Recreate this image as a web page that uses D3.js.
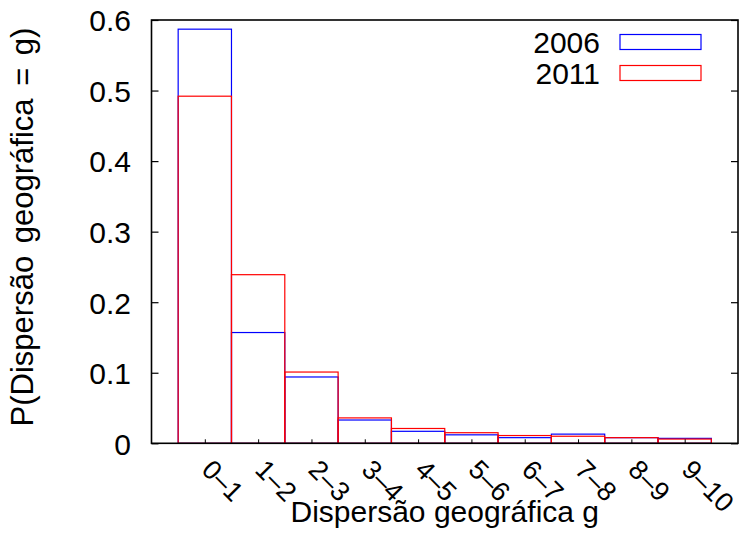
<!DOCTYPE html>
<html>
<head>
<meta charset="utf-8">
<script src="https://cdn.jsdelivr.net/npm/d3@7"></script>
<style>
  html, body { margin: 0; padding: 0; background: #fff; }
  svg { display: block; font-family: "Liberation Sans", Arial, sans-serif; }
</style>
</head>
<body>
<svg id="chart" width="740" height="536"></svg>
<script>
// ---- data ----
const categories = ["0–1", "1–2", "2–3", "3–4", "4–5", "5–6", "6–7", "7–8", "8–9", "9–10"];
const series2006 = [0.587, 0.157, 0.094, 0.033, 0.017, 0.012, 0.008, 0.013, 0.008, 0.007];
const series2011 = [0.492, 0.239, 0.101, 0.036, 0.021, 0.015, 0.011, 0.010, 0.008, 0.006];
const seriesNames = ["2006", "2011"];
const seriesColors = ["#0000ff", "#ff0000"];
const yTicks = [0, 0.1, 0.2, 0.3, 0.4, 0.5, 0.6];
const yTickLabels = ["0", "0.1", "0.2", "0.3", "0.4", "0.5", "0.6"];
const xLabel = "Dispersão geográfica g";
const yLabel = "P(Dispersão geográfica = g)";

// ---- layout ----
const svg = d3.select("#chart");
const L = 151.5, R = 738, T = 20, B = 443.3;
const FS = 30;

const x = d3.scaleLinear().domain([-1, 10]).range([L, R]);
const y = d3.scaleLinear().domain([0, 0.6]).range([B, T]);

// bars
const allSeries = [series2006, series2011];
allSeries.forEach((vals, si) => {
  svg.append("g").selectAll("rect")
    .data(vals)
    .join("rect")
    .attr("x", (d, i) => x(i - 0.5))
    .attr("width", (d, i) => x(i + 0.5) - x(i - 0.5))
    .attr("y", d => y(d))
    .attr("height", d => y(0) - y(d))
    .attr("fill", "none")
    .attr("stroke", seriesColors[si])
    .attr("stroke-width", 1.2);
});

// y axis left
const yAxis = d3.axisLeft(y)
  .tickValues(yTicks)
  .tickFormat((d, i) => yTickLabels[i])
  .tickSizeInner(-7)
  .tickSizeOuter(0)
  .tickPadding(20.5);
const gy = svg.append("g").attr("transform", `translate(${L},0)`).call(yAxis);
gy.select(".domain").remove();
gy.selectAll("line").attr("stroke", "#000").attr("stroke-width", 1.2);
gy.selectAll("text").attr("font-size", FS).attr("fill", "#000").attr("dy", "0.36em")
  .attr("font-family", "'Liberation Sans', Arial, sans-serif");

// y axis right (mirror ticks)
const yAxisR = d3.axisRight(y).tickValues(yTicks).tickFormat("").tickSizeInner(-7).tickSizeOuter(0);
const gyr = svg.append("g").attr("transform", `translate(${R},0)`).call(yAxisR);
gyr.select(".domain").remove();
gyr.selectAll("line").attr("stroke", "#000").attr("stroke-width", 1.2);

// x axis
const xAxis = d3.axisBottom(x)
  .tickValues(d3.range(categories.length))
  .tickFormat((d, i) => categories[i])
  .tickSizeInner(-4)
  .tickSizeOuter(0);
const gx = svg.append("g").attr("transform", `translate(0,${B})`).call(xAxis);
gx.select(".domain").remove();
gx.selectAll("line").attr("stroke", "#000").attr("stroke-width", 1);
gx.selectAll("text")
  .attr("font-size", 27).attr("fill", "#000")
  .attr("font-family", "'Liberation Sans', Arial, sans-serif")
  .attr("text-anchor", "start")
  .attr("y", 0).attr("dy", 0)
  .attr("transform", "translate(-5,28) rotate(45)");

// frame
svg.append("rect")
  .attr("x", L).attr("y", T).attr("width", R - L).attr("height", B - T)
  .attr("fill", "none").attr("stroke", "#000").attr("stroke-width", 1.6);

// axis labels
svg.append("text")
  .attr("x", (L + R) / 2).attr("y", 522)
  .attr("text-anchor", "middle").attr("font-size", FS).attr("fill", "#000")
  .text(xLabel);
svg.append("text")
  .attr("transform", `translate(33,227) rotate(-90)`)
  .attr("text-anchor", "middle").attr("font-size", 31).attr("fill", "#000")
  .attr("word-spacing", 4)
  .text(yLabel);

// legend
const legY = [42, 73];
seriesNames.forEach((name, i) => {
  svg.append("text")
    .attr("x", 600).attr("y", legY[i] + 10.5)
    .attr("text-anchor", "end").attr("font-size", FS).attr("fill", "#000")
    .text(name);
  svg.append("rect")
    .attr("x", 620).attr("y", legY[i] - 7.5)
    .attr("width", 81).attr("height", 15)
    .attr("fill", "none").attr("stroke", seriesColors[i]).attr("stroke-width", 1.2);
});
</script>
</body>
</html>
